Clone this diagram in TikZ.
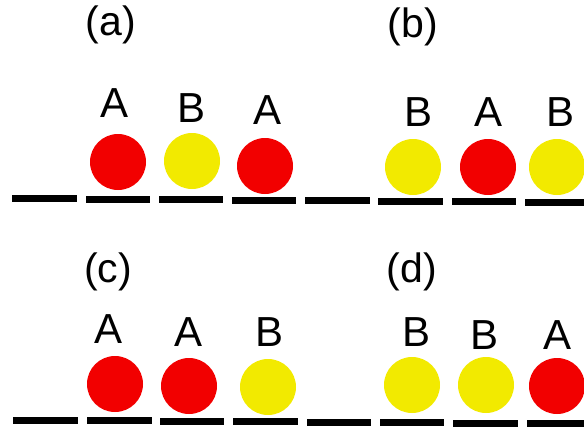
\documentclass[tikz,border=0pt]{standalone}
\usepackage{fontspec}
\setmainfont{Liberation Sans}
\definecolor{ballred}{RGB}{242,0,0}
\definecolor{ballyellow}{RGB}{242,234,0}
\begin{document}
\begin{tikzpicture}[x=1pt,y=-1pt,
  ball/.style={circle,minimum size=56pt,inner sep=0pt},
  redball/.style={ball,fill=ballred},
  yelball/.style={ball,fill=ballyellow},
  lbl/.style={inner sep=0pt,font=\fontsize{42}{48}\selectfont},
  tag/.style={inner sep=0pt,font=\fontsize{41}{48}\selectfont},
  bar/.style={fill=black}]
\useasboundingbox (0,0) rectangle (584,432);
% panel labels
\node[tag] (pa) at (111,25) {(a)};
\node[tag] (pb) at (413,27) {(b)};
\node[tag] (pc) at (108,272) {(c)};
\node[tag] (pd) at (412,272) {(d)};
% row 1 bars
\foreach \xa/\xb [count=\i] in {12/77,86/150,159/223,232/296,305/370,378/443,452/516,525/600}{
  \pgfmathsetmacro{\yc}{198.5+0.5*(\i-1)}
  \fill[bar] (\xa,\yc-3.5) rectangle (\xb,\yc+3.5);
}
% row 2 bars
\foreach \xa/\xb [count=\i] in {13/78,87/152,160/224,233/298,307/371,380/444,453/518,527/600}{
  \pgfmathsetmacro{\yc}{420.5+0.45*(\i-1)}
  \fill[bar] (\xa,\yc-3.5) rectangle (\xb,\yc+3.5);
}
% (a)
\node[redball] (a1) at (118,162) {};
\node[yelball] (a2) at (192,161) {};
\node[redball] (a3) at (265,166) {};
\node[lbl] (la1) at (115,103) {A};
\node[lbl] (la2) at (192,108) {B};
\node[lbl] (la3) at (268,110) {A};
% (b)
\node[yelball] (b1) at (413,167) {};
\node[redball] (b2) at (488,167) {};
\node[yelball] (b3) at (557,167) {};
\node[lbl] (lb1) at (419,112) {B};
\node[lbl] (lb2) at (489,112) {A};
\node[lbl] (lb3) at (561,112) {B};
% (c)
\node[redball] (c1) at (115,384) {};
\node[redball] (c2) at (189,386) {};
\node[yelball] (c3) at (268,387) {};
\node[lbl] (lc1) at (109,329) {A};
\node[lbl] (lc2) at (189,332) {A};
\node[lbl] (lc3) at (270,332) {B};
% (d)
\node[yelball] (d1) at (412,385) {};
\node[yelball] (d2) at (486,385) {};
\node[redball] (d3) at (557,386) {};
\node[lbl] (ld1) at (417,332) {B};
\node[lbl] (ld2) at (485,335) {B};
\node[lbl] (ld3) at (558,335) {A};
\end{tikzpicture}
\end{document}
